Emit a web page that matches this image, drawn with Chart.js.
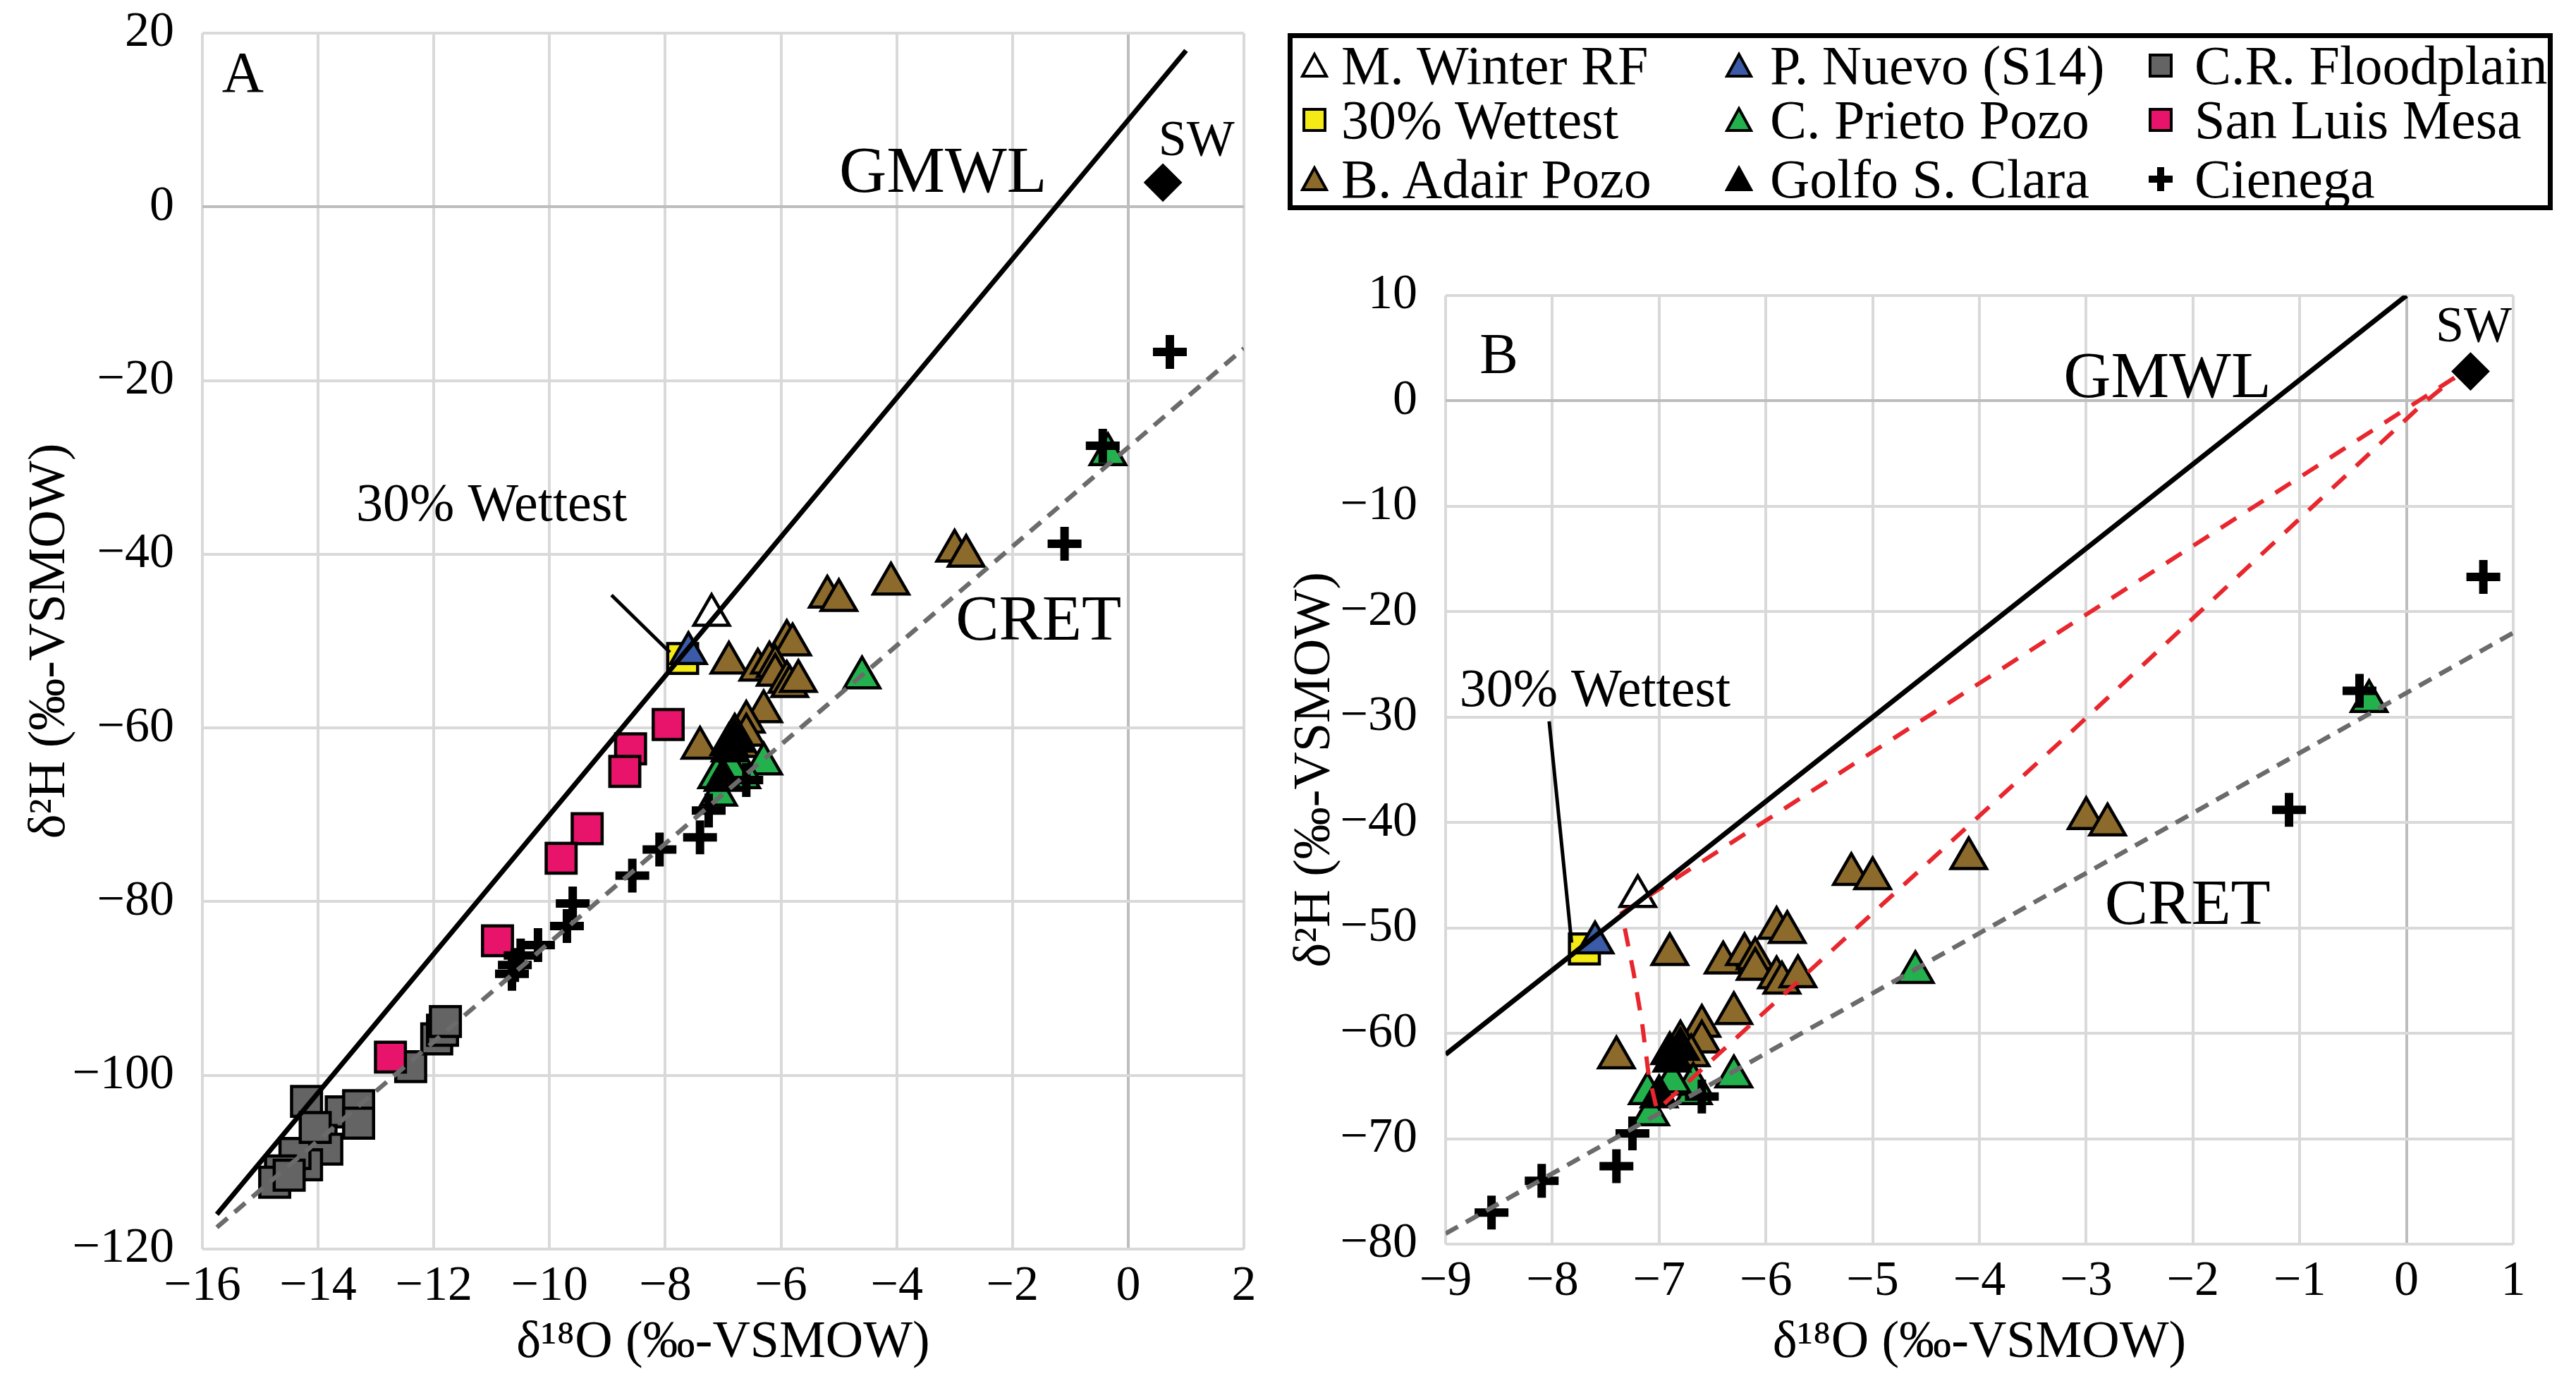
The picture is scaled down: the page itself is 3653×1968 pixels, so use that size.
<!DOCTYPE html>
<html>
<head>
<meta charset="utf-8">
<script src="https://cdn.jsdelivr.net/npm/chart.js@4.4.0/dist/chart.umd.min.js"></script>
<style>
  html, body { margin: 0; padding: 0; background: #fff; }
  body { width: 3653px; height: 1968px; position: relative; overflow: hidden; font-family: 'Liberation Serif', 'Times New Roman', serif; }
  #wrapA { position: absolute; left: 0; top: 0; }
  #wrapB { position: absolute; left: 1800px; top: 0; }
  #legend { position: absolute; left: 1826px; top: 47px; width: 1794px; height: 251px; border: 7px solid #000; box-sizing: border-box; }
  .item { position: absolute; height: 90px; display: flex; align-items: center; font-size: 78px; color: #000; white-space: nowrap; }
  .item svg { position: absolute; }
</style>
</head>
<body>
<div id="wrapA"><canvas id="chartA" width="1800" height="1968"></canvas></div>
<div id="wrapB"><canvas id="chartB" width="1853" height="1968"></canvas></div>
<div id="legend"></div>
<script>
// ---- data (d18O = O, d2H = H) ----
const winterO = [-7.2];
const winterH = [-47];
const wettestO = [-7.7];
const wettestH = [-52];
const nuevoO = [-7.6];
const nuevoH = [-51.4];
const swO = [0.6];
const swH = [2.8];

const adairO = [-5.2, -5.0, -4.1, -3.0, -2.8, -6.9, -7.4, -5.9, -5.8, -6.4, -6.2, -6.1, -6.1, -5.9, -5.85, -5.7, -6.3, -6.6, -6.6, -6.8, -6.7];
const adairH = [-44.9, -45.3, -43.4, -39.6, -40.2, -52.5, -62.3, -50.0, -50.4, -53.3, -52.5, -52.9, -53.9, -54.7, -55.2, -54.6, -58.1, -59.3, -60.8, -60.8, -62.1];

const prietoO = [-4.6, -0.35, -6.3, -6.68, -6.68, -7.11, -6.88, -7.08];
const prietoH = [-54.2, -28.5, -64.1, -65.7, -64.8, -65.7, -64.6, -67.7];

const golfoO = [-6.9, -6.8, -7.0, -6.88];
const golfoH = [-61.9, -61.5, -66.0, -62.6];

const cienegaO = [0.72, -1.1, -0.44, -7.4, -8.1, -8.57, -7.25, -6.6, -9.6, -9.7, -10.2, -10.5, -10.6, -10.65];
const cienegaH = [-16.7, -38.8, -27.5, -72.6, -74.0, -77.0, -69.5, -66.0, -80.2, -82.8, -85.0, -86.2, -87.3, -88.3];

const sanLuisO = [-7.95, -8.6, -8.7, -9.35, -9.8, -10.9, -12.75];
const sanLuisH = [-59.6, -62.4, -65.0, -71.6, -75.0, -84.5, -97.9];

const floodO = [-14.2, -13.6, -13.3, -13.3, -13.95, -13.85, -14.2, -14.4, -14.65, -14.75, -14.5, -12.4, -11.95, -11.85, -11.8, -14.05];
const floodH = [-103.0, -104.2, -103.5, -105.5, -107.5, -108.5, -110.3, -109.0, -111.0, -112.3, -111.5, -99.0, -95.8, -94.8, -93.8, -106.0];

// reference lines (end points)
const gmwlAO = [-15.75, 1.0];
const gmwlAH = [-116.0, 18.0];
const cretAO = [-15.75, 2.0];
const cretAH = [-117.5, -16.3];
const gmwlBO = [-9, 0];
const gmwlBH = [-62, 10];
const cretBO = [-9, 1];
const cretBH = [-79, -22];
// red mixing envelope in panel B
const mixO = [0.45, -7.35, -7.24, -7.16, -7.1, -7.02, -3.14, 0.15, 0.45];
const mixH = [2.2, -48.6, -54.2, -59.0, -63.8, -67.3, -31.4, -0.3, 2.2];

// tick labels
const aTicksO = [-16, -14, -12, -10, -8, -6, -4, -2, 0, 2];
const aTicksH = [-120, -100, -80, -60, -40, -20, 0, 20];
const bTicksO = [-9, -8, -7, -6, -5, -4, -3, -2, -1, 0, 1];
const bTicksH = [-80, -70, -60, -50, -40, -30, -20, -10, 0, 10];

// ---- helpers ----
const pts = (xs, ys) => xs.map((v, i) => ({ x: v, y: ys[i] }));
const fmt = v => (v < 0 ? '\u2212' + Math.abs(v) : String(v));
const FONT = 'Liberation Serif';
Chart.defaults.font.family = FONT;

const series = [
  { name: 'M. Winter RF', o: winterO, h: winterH, style: 'triangle', fill: '#ffffff', col: 0, row: 0 },
  { name: '30% Wettest', o: wettestO, h: wettestH, style: 'rect', fill: '#f4ea16', col: 0, row: 1 },
  { name: 'B. Adair Pozo', o: adairO, h: adairH, style: 'triangle', fill: '#8b6a2b', col: 0, row: 2 },
  { name: 'P. Nuevo (S14)', o: nuevoO, h: nuevoH, style: 'triangle', fill: '#3b5ba9', col: 1, row: 0 },
  { name: 'C. Prieto Pozo', o: prietoO, h: prietoH, style: 'triangle', fill: '#23b14d', col: 1, row: 1 },
  { name: 'Golfo S. Clara', o: golfoO, h: golfoH, style: 'triangle', fill: '#000000', col: 1, row: 2 },
  { name: 'C.R. Floodplain', o: floodO, h: floodH, style: 'rect', fill: '#646464', col: 2, row: 0 },
  { name: 'San Luis Mesa', o: sanLuisO, h: sanLuisH, style: 'rect', fill: '#e8136a', col: 2, row: 1 },
  { name: 'Cienega', o: cienegaO, h: cienegaH, style: 'cross', fill: '#000000', col: 2, row: 2 }
];
const byName = n => series.find(s => s.name === n);

function markerSet(s, inRange) {
  let data = pts(s.o, s.h);
  if (inRange) data = data.filter(inRange);
  const r = s.style === 'cross' ? 24 : s.style === 'rect' ? 30 : 29;
  return {
    data: data,
    showLine: false,
    pointStyle: s.style,
    pointRadius: r,
    pointHoverRadius: r,
    pointBackgroundColor: s.fill,
    pointBorderColor: '#000',
    pointBorderWidth: s.style === 'cross' ? 12 : 4.5
  };
}
function lineSet(xs, ys, color, width, dash) {
  return {
    data: pts(xs, ys), showLine: true, pointRadius: 0, pointHoverRadius: 0,
    borderColor: color, borderWidth: width, borderDash: dash || [], fill: false, tension: 0
  };
}
function swSet() {
  return { data: pts(swO, swH), showLine: false, pointStyle: 'rectRot', pointRadius: 26, pointHoverRadius: 26,
    pointBackgroundColor: '#000', pointBorderColor: '#000', pointBorderWidth: 2 };
}

function axis(ticks, title, titlePad, tickPad, fit) {
  return {
    type: 'linear', min: ticks[0], max: ticks[ticks.length - 1],
    afterBuildTicks: s => { s.ticks = ticks.map(v => ({ value: v })); },
    afterFit: s => {
      fit(s);
      s.paddingTop = 0; s.paddingBottom = 0; s.paddingLeft = 0; s.paddingRight = 0;
    },
    grid: { color: c => (c.tick && c.tick.value === 0 ? '#bdbdbd' : '#d9d9d9'), lineWidth: 4, drawTicks: false },
    border: { display: false },
    ticks: { padding: tickPad, color: '#000', font: { family: FONT, size: 70 }, autoSkip: false, maxRotation: 0, callback: v => fmt(v) },
    title: { display: true, text: title, color: '#000', font: { family: FONT, size: 74 }, padding: titlePad }
  };
}

const notes = {
  id: 'notes',
  afterDatasetsDraw(chart, args, opts) {
    const { ctx, scales: { x, y } } = chart;
    ctx.save();
    (opts.leaders || []).forEach(l => {
      ctx.beginPath();
      ctx.moveTo(x.getPixelForValue(l[0]), y.getPixelForValue(l[1]));
      ctx.lineTo(x.getPixelForValue(l[2]), y.getPixelForValue(l[3]));
      ctx.lineWidth = 5;
      ctx.strokeStyle = '#000';
      ctx.stroke();
    });
    ctx.fillStyle = '#000';
    ctx.textAlign = 'center';
    ctx.textBaseline = 'middle';
    (opts.labels || []).forEach(t => {
      ctx.font = t.size + 'px ' + FONT;
      ctx.fillText(t.text, x.getPixelForValue(t.x), y.getPixelForValue(t.y));
    });
    ctx.restore();
  }
};

const markerOrder = ['Cienega', 'Golfo S. Clara', 'C. Prieto Pozo', 'P. Nuevo (S14)', 'M. Winter RF', '30% Wettest', 'B. Adair Pozo', 'San Luis Mesa', 'C.R. Floodplain'];

// ---- Panel A ----
new Chart(document.getElementById('chartA'), {
  type: 'scatter',
  data: {
    datasets: [
      lineSet(gmwlAO, gmwlAH, '#000', 7),
      lineSet(cretAO, cretAH, '#6b6b6b', 6.5, [20, 13])
    ].concat(markerOrder.map(n => markerSet(byName(n)))).concat([swSet()])
  },
  options: {
    responsive: false, animation: false, events: [],
    layout: { padding: { top: 47, right: 25, left: 0, bottom: 0 } },
    plugins: {
      legend: { display: false }, tooltip: { enabled: false },
      notes: {
        leaders: [[-8.93, -44.7, -7.92, -51.3]],
        labels: [
          { text: 'A', x: -15.3, y: 15, size: 82 },
          { text: 'GMWL', x: -3.2, y: 3.7, size: 93 },
          { text: 'SW', x: 1.18, y: 7.5, size: 72 },
          { text: 'CRET', x: -1.55, y: -47.9, size: 92 },
          { text: '30% Wettest', x: -11.0, y: -34.5, size: 76 }
        ]
      }
    },
    scales: {
      x: axis(aTicksO, 'δ\u00B9\u2078O (‰-VSMOW)', { bottom: 19 }, 12, s => { s.height = 197; }),
      y: axis(aTicksH, 'δ\u00B2H (‰-VSMOW)', { top: 27 }, 40, s => { s.width = 287; })
    }
  },
  plugins: [notes]
});

// ---- Panel B ----
const inB = p => p.x >= -9 && p.x <= 1 && p.y >= -80 && p.y <= 10;
const bSeries = ['Cienega', 'Golfo S. Clara', 'C. Prieto Pozo', 'P. Nuevo (S14)', 'M. Winter RF', '30% Wettest', 'B. Adair Pozo'];
new Chart(document.getElementById('chartB'), {
  type: 'scatter',
  data: {
    datasets: [
      lineSet(gmwlBO, gmwlBH, '#000', 7),
      lineSet(cretBO, cretBH, '#6b6b6b', 6.5, [20, 13]),
      lineSet(mixO, mixH, '#e8262d', 6, [26, 20])
    ].concat(bSeries.map(n => markerSet(byName(n), inB))).concat([swSet()])
  },
  options: {
    responsive: false, animation: false, events: [],
    layout: { padding: { top: 419, right: 89, left: 0, bottom: 0 } },
    plugins: {
      legend: { display: false }, tooltip: { enabled: false },
      notes: {
        leaders: [[-8.03, -30.4, -7.82, -51.4]],
        labels: [
          { text: 'B', x: -8.5, y: 4.1, size: 82 },
          { text: 'GMWL', x: -2.24, y: 2.0, size: 93 },
          { text: 'SW', x: 0.63, y: 6.9, size: 72 },
          { text: 'CRET', x: -2.05, y: -48.0, size: 92 },
          { text: '30% Wettest', x: -7.6, y: -27.6, size: 76 }
        ]
      }
    },
    scales: {
      x: axis(bTicksO, 'δ\u00B9\u2078O (‰-VSMOW)', { bottom: 19 }, 12, s => { s.height = 204; }),
      y: axis(bTicksH, 'δ\u00B2H (‰-VSMOW)', { top: 21 }, 40, s => { s.width = 250; })
    }
  },
  plugins: [notes]
});

// ---- legend (HTML) ----
const legCols = [1864, 2466, 3064];
const legText = [1902, 2510, 3112];
const legRows = [93, 170, 254];
const legend = document.getElementById('legend');
function icon(s) {
  if (s.style === 'triangle') {
    return '<svg width="40" height="40" style="left:-20px;top:25px"><polygon points="20,4 37,35 3,35" fill="' + s.fill + '" stroke="#000" stroke-width="4"/></svg>';
  }
  if (s.style === 'rect') {
    return '<svg width="40" height="40" style="left:-20px;top:25px"><rect x="5" y="5" width="30" height="30" fill="' + s.fill + '" stroke="#000" stroke-width="4"/></svg>';
  }
  return '<svg width="40" height="40" style="left:-20px;top:25px"><rect x="15" y="3" width="10" height="34" fill="#000"/><rect x="3" y="15" width="34" height="10" fill="#000"/></svg>';
}
series.forEach(s => {
  const d = document.createElement('div');
  d.className = 'item';
  const ox = 1826 + 7, oy = 47 + 7;
  d.style.left = (legCols[s.col] - ox) + 'px';
  d.style.top = (legRows[s.row] - 45 - oy) + 'px';
  d.innerHTML = icon(s) + '<span style="margin-left:' + (legText[s.col] - legCols[s.col]) + 'px">' + s.name + '</span>';
  legend.appendChild(d);
});
</script>
</body>
</html>
